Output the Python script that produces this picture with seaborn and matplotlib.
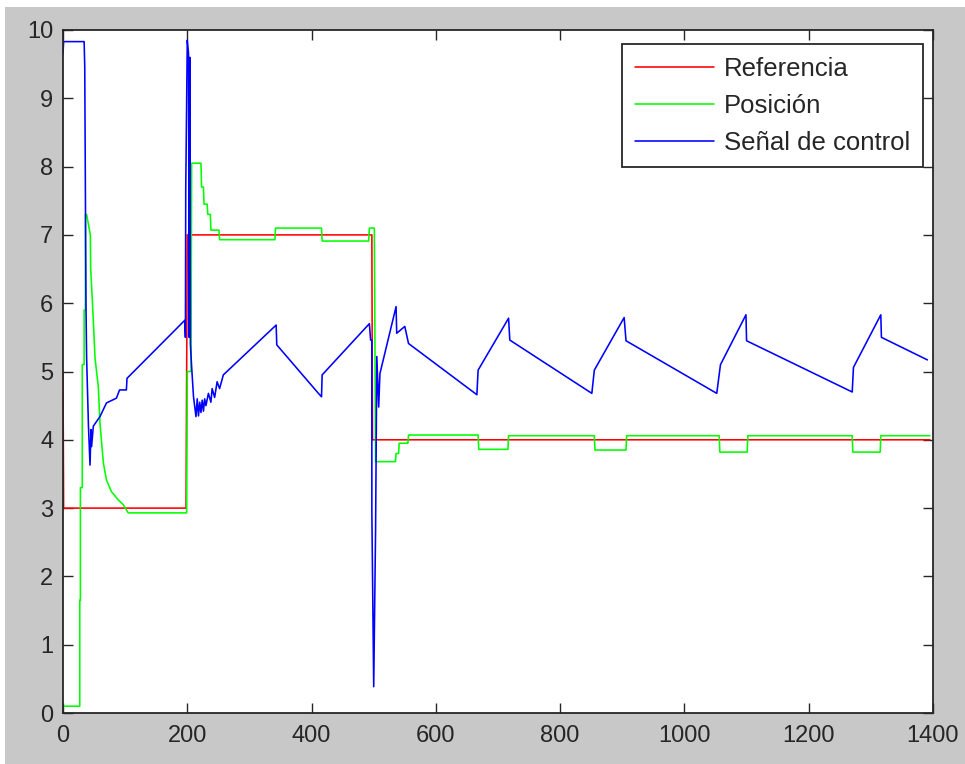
import matplotlib
matplotlib.use("Agg")
import matplotlib.pyplot as plt
from matplotlib.patches import Rectangle
import seaborn as sns
import pandas as pd

# ---- data ----
ref_t = [0, 1, 198, 199, 200, 497, 498, 1395]
ref_y = [5, 3, 3, 5, 7, 7, 4, 4]

pos_t = [0, 27, 27, 28, 28, 31, 31, 34, 34, 36, 36, 38, 44, 44.5, 48.8, 51.5, 56.8, 59.5, 65, 70, 78, 89, 97, 105,
         199, 200, 206, 207, 222, 223, 226, 227, 232, 233, 237, 238, 251, 252,
         341, 342, 416, 417, 492, 493, 501, 503, 535, 536, 540, 541, 555, 556,
         668, 669, 716, 717, 855, 856, 906, 907, 1056, 1057, 1101, 1102, 1270, 1271, 1315, 1316, 1395]
pos_y = [0.1, 0.1, 1.65, 1.65, 3.3, 3.3, 5.1, 5.1, 5.9, 5.9, 7.3, 7.3, 7.0, 6.52, 5.75, 5.2, 4.78, 4.24, 3.66, 3.41, 3.24, 3.12, 3.05, 2.93,
         2.93, 5.0, 5.0, 8.05, 8.05, 7.7, 7.7, 7.45, 7.45, 7.3, 7.3, 7.07, 7.07, 6.93,
         6.93, 7.1, 7.1, 6.91, 6.91, 7.1, 7.1, 3.68, 3.68, 3.8, 3.8, 3.95, 3.95, 4.07,
         4.07, 3.86, 3.86, 4.06, 4.06, 3.85, 3.85, 4.06, 4.06, 3.82, 3.82, 4.06, 4.06, 3.82, 3.82, 4.06, 4.06]

ctl_t = [0, 1, 34, 35, 37, 38, 41, 43.5, 45, 46, 48.8, 59.5, 70, 86, 91, 102, 103, 196, 197, 197.5, 200, 202, 203, 204, 205,
         207, 210, 214, 216, 218, 220, 222, 224, 226, 228, 230, 234, 238, 240, 244, 248, 252, 258,
         343, 344, 411, 416, 417, 493, 495, 497, 497, 500, 503, 505, 508, 510, 536, 537, 550, 556,
         666, 668, 717, 719, 851, 855, 903, 906, 1052, 1058, 1099, 1100, 1270, 1272, 1316, 1317, 1391]
ctl_y = [9.65, 9.83, 9.83, 9.46, 5.95, 5.2, 4.19, 3.63, 4.15, 3.9, 4.2, 4.34, 4.54, 4.61, 4.73, 4.73, 4.9, 5.75, 5.5, 7.66, 9.85, 9.66, 5.5, 9.6, 5.4,
         5.07, 4.63, 4.34, 4.6, 4.35, 4.55, 4.4, 4.58, 4.42, 4.6, 4.5, 4.68, 4.55, 4.75, 4.62, 4.85, 4.75, 4.95,
         5.68, 5.39, 4.68, 4.63, 4.95, 5.70, 5.46, 5.46, 2.95, 0.385, 2.68, 5.22, 4.48, 4.97, 5.95, 5.56, 5.66, 5.41,
         4.66, 5.02, 5.78, 5.46, 4.68, 5.02, 5.79, 5.45, 4.68, 5.10, 5.83, 5.45, 4.70, 5.06, 5.83, 5.50, 5.17]

labels = ["Referencia", "Posición", "Señal de control"]
colors = ["#ff0000", "#00ff00", "#0000ff"]

sns.set_theme(style="white")
plt.rcParams["font.family"] = ["Liberation Sans", "DejaVu Sans"]

W, H = 965, 764
fig = plt.figure(figsize=(W / 100, H / 100), dpi=100, facecolor="#c8c8c8")
# thin white border at top and left of the window
fig.patches.append(Rectangle((0, 0), 5 / W, 1, transform=fig.transFigure,
                             facecolor="white", edgecolor="none", zorder=-10))
fig.patches.append(Rectangle((0, 1 - 7 / H), 1, 7 / H, transform=fig.transFigure,
                             facecolor="white", edgecolor="none", zorder=-10))
ax = fig.add_axes([63 / W, 1 - 713 / H, (933 - 63) / W, (713 - 30) / H])
ax.set_facecolor("white")

for t, y, lab, c in zip([ref_t, pos_t, ctl_t], [ref_y, pos_y, ctl_y], labels, colors):
    df = pd.DataFrame({"t": t, "y": y})
    sns.lineplot(data=df, x="t", y="y", sort=False, estimator=None, color=c,
                 linewidth=1.15, label=lab, ax=ax)

ax.set_xlim(0, 1400)
ax.set_ylim(0, 10)
ax.set_xticks(range(0, 1401, 200))
ax.set_yticks(range(0, 11))
ax.set_xlabel("")
ax.set_ylabel("")
ax.tick_params(direction="in", length=7, width=1, colors="#262626", labelsize=17,
               top=True, right=True, bottom=True, left=True, labelcolor="#262626")
ax.tick_params(axis="x", pad=8.5)
ax.tick_params(axis="y", pad=7)
for s in ax.spines.values():
    s.set_visible(True)
    s.set_color("#262626")
    s.set_linewidth(1.3)

leg = ax.legend(loc="upper right", bbox_to_anchor=(923 / W, 1 - 44 / H),
                bbox_transform=fig.transFigure, borderaxespad=0,
                fontsize=18.5, frameon=True, fancybox=False,
                edgecolor="#262626", framealpha=1,
                handlelength=3.05, handletextpad=0.4, labelspacing=0.5,
                borderpad=0.5)
leg.get_frame().set_linewidth(1.3)
for line in leg.get_lines():
    line.set_linewidth(1.15)
for txt in leg.get_texts():
    txt.set_color("#262626")

fig.savefig("out.png", dpi=100, facecolor=fig.get_facecolor())
